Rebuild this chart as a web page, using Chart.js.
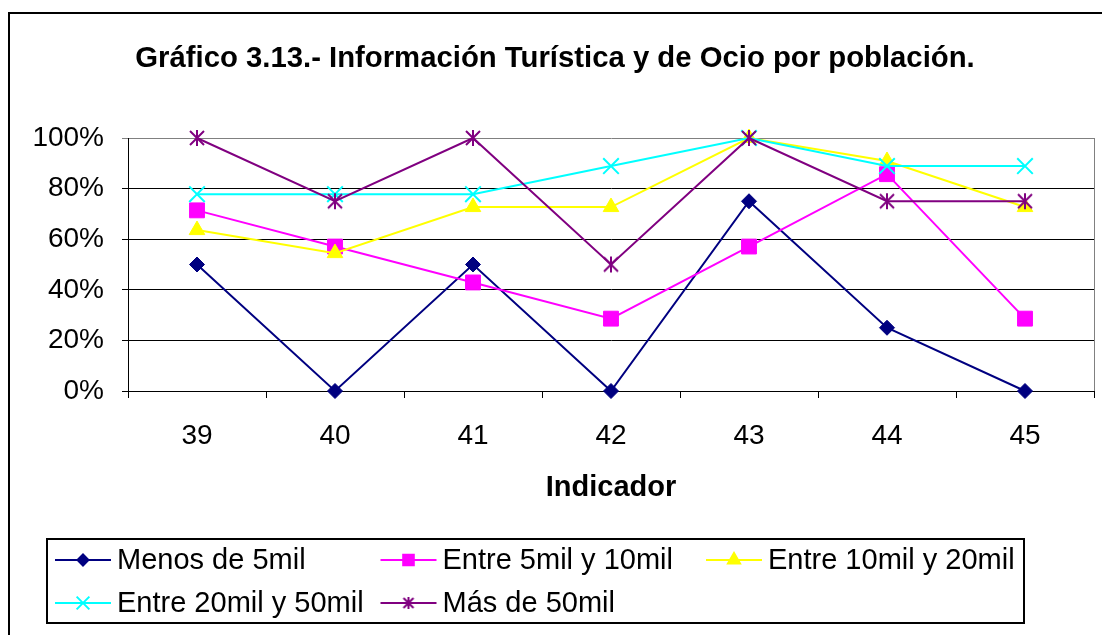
<!DOCTYPE html>
<html>
<head>
<meta charset="utf-8">
<script src="https://cdn.jsdelivr.net/npm/chart.js@4/dist/chart.umd.min.js"></script>
<style>
  html, body { margin: 0; padding: 0; background: #fff; }
  canvas { display: block; }
</style>
</head>
<body>
<canvas id="grafico" width="1102" height="635"></canvas>
<script>
// datos (porcentajes)
const indicadores = ['39', '40', '41', '42', '43', '44', '45'];
const menos5mil = [50, 0, 50, 0, 75, 25, 0];
const entre5y10 = [71.4, 57.1, 42.9, 28.6, 57.1, 85.7, 28.6];
const entre10y20 = [63.6, 54.5, 72.7, 72.7, 100, 90.9, 72.7];
const entre20y50 = [77.8, 77.8, 77.8, 88.9, 100, 88.9, 88.9];
const mas50mil = [100, 75, 100, 50, 100, 75, 75];
const nombres = ['Menos de 5mil', 'Entre 5mil y 10mil', 'Entre 10mil y 20mil', 'Entre 20mil y 50mil', 'Más de 50mil'];

const FONT = '"Liberation Sans", Arial, sans-serif';
Chart.defaults.font.family = FONT;
Chart.defaults.color = '#000';

// asterisco tipo Excel (vertical + aspa)
const makeStar = (size, color) => {
    const c = document.createElement('canvas');
    c.width = size; c.height = size;
    const g = c.getContext('2d');
    g.strokeStyle = color;
    g.lineWidth = 2;
    const m = size / 2, e = 1;
    g.beginPath();
    g.moveTo(m, e); g.lineTo(m, size - e);
    g.moveTo(e + 1, e + 1); g.lineTo(size - e - 1, size - e - 1);
    g.moveTo(size - e - 1, e + 1); g.lineTo(e + 1, size - e - 1);
    g.stroke();
    return c;
};
const starBig = makeStar(18, '#800080');
const starSmall = makeStar(14, '#800080');

const estilos = [
    { color: '#000080', style: 'rectRot', r: 7.5, lr: 5.5, bw: 1 },
    { color: '#FF00FF', style: 'rect', r: 10.5, lr: 7.5, bw: 1 },
    { color: '#FFFF00', style: 'triangle', r: 9, lr: 7, bw: 1 },
    { color: '#00FFFF', style: 'crossRot', r: 11, lr: 9, bw: 2 },
    { color: '#800080', style: starBig, legendStyle: starSmall, r: 8, lr: 6, bw: 0 },
];

const series = [menos5mil, entre5y10, entre10y20, entre20y50, mas50mil];

const datasets = series.map((vals, i) => ({
    label: nombres[i],
    data: vals,
    borderColor: estilos[i].color,
    backgroundColor: estilos[i].color,
    borderWidth: 2,
    pointStyle: estilos[i].style,
    pointRadius: estilos[i].r,
    pointBorderWidth: estilos[i].bw,
    pointBorderColor: estilos[i].color,
    pointBackgroundColor: estilos[i].color,
    tension: 0,
    clip: false,
    order: 4 - i,
}));

const decoracion = {
    id: 'decoracion',
    beforeDraw(chart) {
        const ctx = chart.ctx;
        ctx.save();
        ctx.fillStyle = '#fff';
        ctx.fillRect(0, 0, chart.width, chart.height);
        ctx.restore();
    },
    afterDraw(chart) {
        const ctx = chart.ctx;
        const area = chart.chartArea;
        ctx.save();
        // marco exterior
        ctx.strokeStyle = '#000';
        ctx.lineWidth = 2;
        ctx.strokeRect(9, 13, 2000, 2000);

        // borde derecho del area de trazado
        ctx.strokeStyle = '#808080';
        ctx.lineWidth = 1;
        ctx.beginPath();
        ctx.moveTo(Math.round(area.right) + 0.5, area.top);
        ctx.lineTo(Math.round(area.right) + 0.5, area.bottom);
        ctx.stroke();

        // titulos
        ctx.fillStyle = '#000';
        ctx.textAlign = 'center';
        ctx.textBaseline = 'middle';
        ctx.font = 'bold 29.3px ' + FONT;
        ctx.fillText('Gráfico 3.13.- Información Turística y de Ocio por población.', 555, 59);
        ctx.font = 'bold 29px ' + FONT;
        ctx.fillText('Indicador', (area.left + area.right) / 2, 488);

        // leyenda
        ctx.strokeStyle = '#000';
        ctx.lineWidth = 2;
        ctx.strokeRect(47, 539, 977, 84);
        ctx.font = '29px ' + FONT;
        ctx.textAlign = 'left';
        chart.data.datasets.forEach((ds, i) => {
            const col = i % 3, row = Math.floor(i / 3);
            const x = 55 + col * 325.5;
            const y = 560 + row * 43;
            const est = estilos[i];
            ctx.strokeStyle = est.color;
            ctx.fillStyle = est.color;
            ctx.lineWidth = 2;
            ctx.beginPath();
            ctx.moveTo(x, y);
            ctx.lineTo(x + 56, y);
            ctx.stroke();
            Chart.helpers.drawPoint(ctx, {
                pointStyle: est.legendStyle || est.style,
                radius: est.lr,
                rotation: 0,
                borderWidth: est.bw,
            }, x + 28, y);
            ctx.fillStyle = '#000';
            ctx.fillText(ds.label, x + 62, y + 1);
        });
        ctx.restore();
    }
};

const chart = new Chart(document.getElementById('grafico'), {
    type: 'line',
    data: { labels: indicadores, datasets: datasets },
    plugins: [decoracion],
    options: {
        responsive: false,
        animation: false,
        devicePixelRatio: 1,
        layout: { autoPadding: false, padding: { left: 0, right: 8, top: 138, bottom: 174 } },
        plugins: {
            legend: { display: false },
            title: { display: false },
            tooltip: { enabled: false },
        },
        scales: {
            x: {
                offset: true,
                grid: {
                    offset: true,
                    drawOnChartArea: false,
                    drawTicks: true,
                    tickLength: 7,
                    color: '#000',
                },
                border: { color: '#000', width: 1 },
                ticks: { font: { size: 28 }, padding: 21, color: '#000', maxRotation: 0 },
                afterFit: (s) => { s.height = 70; },
            },
            y: {
                min: 0,
                max: 100,
                grid: {
                    color: (c) => (c.tick && c.tick.value === 100 ? '#808080' : '#000'),
                    tickLength: 6,
                },
                border: { color: '#000', width: 1 },
                ticks: {
                    stepSize: 20,
                    padding: 18,
                    font: { size: 28 },
                    color: '#000',
                    callback: (v) => v + '%',
                },
                afterFit: (s) => { s.width = 128; },
            }
        }
    }
});
</script>
</body>
</html>
